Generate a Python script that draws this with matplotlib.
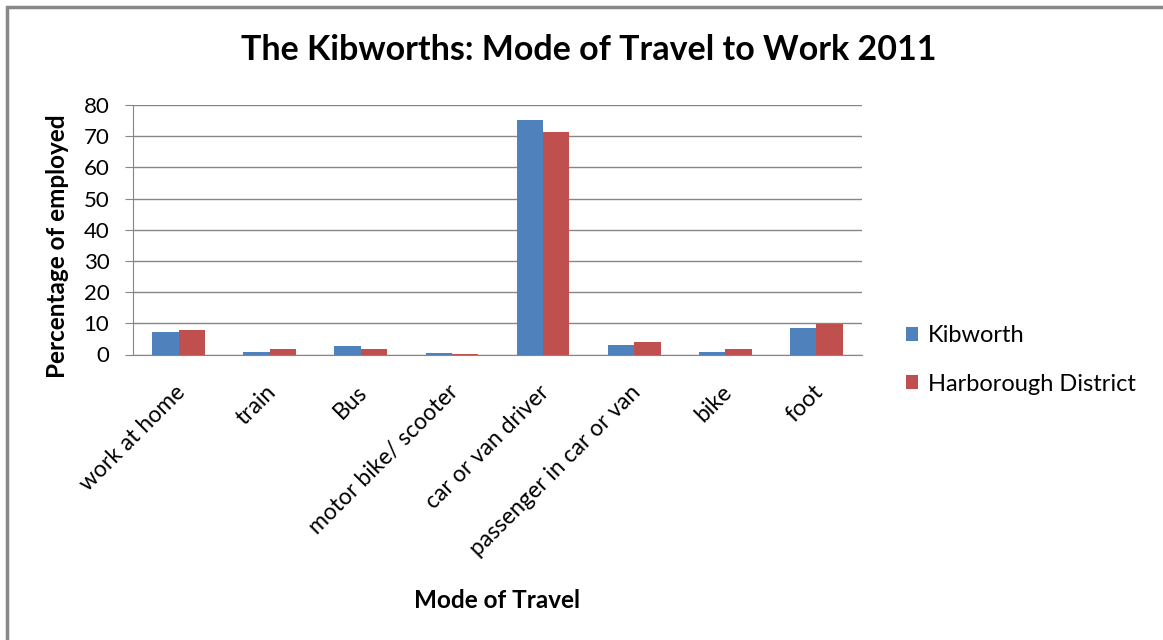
import matplotlib
matplotlib.use("Agg")
import matplotlib.pyplot as plt
import numpy as np
from matplotlib.patches import Rectangle
from matplotlib.transforms import ScaledTranslation

categories = ["work at home", "train", "Bus", "motor bike/ scooter", "car or van driver",
              "passenger in car or van", "bike", "foot"]
kibworth = [7.1, 0.8, 2.6, 0.4, 75.2, 3.1, 0.7, 8.6]
harborough = [7.9, 1.7, 1.8, 0.3, 71.2, 4.0, 1.8, 9.8]
series_names = ["Kibworth", "Harborough District"]
yticks = [0, 10, 20, 30, 40, 50, 60, 70, 80]

plt.rcParams['font.family'] = ['Lato', 'DejaVu Sans']

fig = plt.figure(figsize=(11.63, 6.4), dpi=100)
fig.patch.set_facecolor('white')

# outer frame (cut off on right/bottom)
fig.patches.append(Rectangle((6.5 / 1163, -0.05), 1.2, 1 - 6.5 / 640 + 0.05,
                             transform=fig.transFigure, fill=False,
                             edgecolor='#888888', linewidth=2.5, zorder=0))

ax = fig.add_axes([133 / 1163, 1 - 354.5 / 640, (862 - 133) / 1163, (354.5 - 105) / 640])

x = np.arange(len(categories))
w = 0.29
ax.bar(x - w / 2, kibworth, w, color='#4F81BD', label=series_names[0], zorder=3)
ax.bar(x + w / 2, harborough, w, color='#C0504D', label=series_names[1], zorder=3)

ax.set_xlim(-0.5, len(categories) - 0.5)
ax.set_ylim(0, 80)
ax.set_yticks(yticks)
ax.yaxis.grid(True, color='#868686', linewidth=1.0, zorder=0)
ax.set_axisbelow(True)
for s in ['top', 'right']:
    ax.spines[s].set_visible(False)
ax.spines['left'].set_color('#868686')
ax.spines['bottom'].set_color('#868686')
ax.tick_params(axis='y', length=6, color='#868686', labelsize=16, pad=11)
ax.tick_params(axis='x', length=0, labelsize=16.5, pad=0)
ax.set_xticks(x)
ax.set_xticklabels(categories, rotation=45, ha='right', va='center', rotation_mode='anchor')
offset = ScaledTranslation(3 / 100, -34 / 100, fig.dpi_scale_trans)
for lbl in ax.get_xticklabels():
    lbl.set_transform(lbl.get_transform() + offset)

ax.set_ylabel("Percentage of employed", fontsize=17.5, fontweight='bold')
ax.yaxis.set_label_coords(-0.088, 0.435)
fig.text(497 / 1163, 1 - 600 / 640, "Mode of Travel", fontsize=17.5, fontweight='bold',
         ha='center', va='center')
fig.text(589 / 1163, 1 - 50 / 640, "The Kibworths: Mode of Travel to Work 2011",
         fontsize=24.5, fontweight='bold', ha='center', va='center')

leg = fig.legend(loc='center left', bbox_to_anchor=(906 / 1163, 1 - 360 / 640),
                 frameon=False, fontsize=17, handlelength=0.5, handleheight=0.5,
                 labelspacing=1.15, handletextpad=0.42, borderpad=0, borderaxespad=0)

fig.savefig("out.png", dpi=100, facecolor='white')
